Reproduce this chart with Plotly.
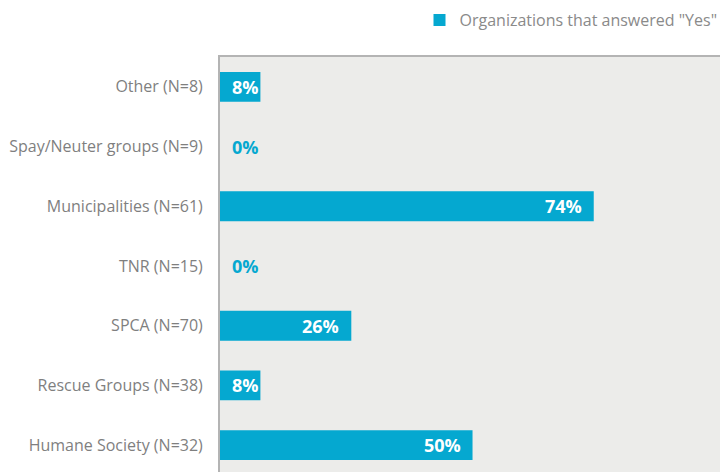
import plotly.graph_objects as go

categories = ["Humane Society (N=32)", "Rescue Groups (N=38)", "SPCA (N=70)", "TNR (N=15)",
              "Municipalities (N=61)", "Spay/Neuter groups (N=9)", "Other (N=8)"]
values = [50, 8, 26, 0, 74, 0, 8]
series_name = 'Organizations that answered "Yes"'

BLUE = "#05a8d0"
FONT = "Open Sans"

fig = go.Figure()
fig.add_trace(go.Bar(
    y=categories, x=values, orientation="h", name=series_name,
    marker=dict(color=BLUE, line=dict(width=0)), width=0.5, showlegend=True,
))

for c, v in zip(categories, values):
    if v >= 15:
        fig.add_annotation(x=v, y=c, text=f"<b>{v}%</b>", showarrow=False, xanchor="right",
                           xshift=-10, font=dict(family=FONT, size=18, color="white"))
    else:
        fig.add_annotation(x=0, y=c, text=f"<b>{v}%</b>", showarrow=False, xanchor="left",
                           xshift=10, font=dict(family=FONT, size=18,
                                                color="white" if v > 0 else BLUE))

fig.update_layout(
    width=720, height=472, autosize=False,
    margin=dict(l=220, r=0, t=57, b=0, autoexpand=False),
    paper_bgcolor="white", plot_bgcolor="#ececea",
    font=dict(family=FONT, size=16, color="#7f7f7f"),
    showlegend=True,
    legend=dict(orientation="h", x=0.399, xanchor="left", y=1.0 + 54 / 415, yanchor="top",
                font=dict(size=16, color="#8a8a8a"), bgcolor="rgba(0,0,0,0)"),
    bargap=0.5,
)
fig.update_xaxes(range=[0, 99], side="top", showticklabels=False, showgrid=False, zeroline=False,
                 showline=True, linecolor="#b4b4b4", linewidth=2, ticks="")
fig.update_yaxes(type="category", categoryorder="array", categoryarray=categories, range=[-0.45, 6.5],
                 showgrid=False, zeroline=False, showline=True, linecolor="#b4b4b4", linewidth=2,
                 ticks="", ticklabelstandoff=12)

fig.write_html(
    "out.html",
    config={"responsive": False, "displayModeBar": False},
    post_script="document.documentElement.style.overflow='hidden';document.body.style.margin='0';document.body.style.overflow='hidden';",
)
